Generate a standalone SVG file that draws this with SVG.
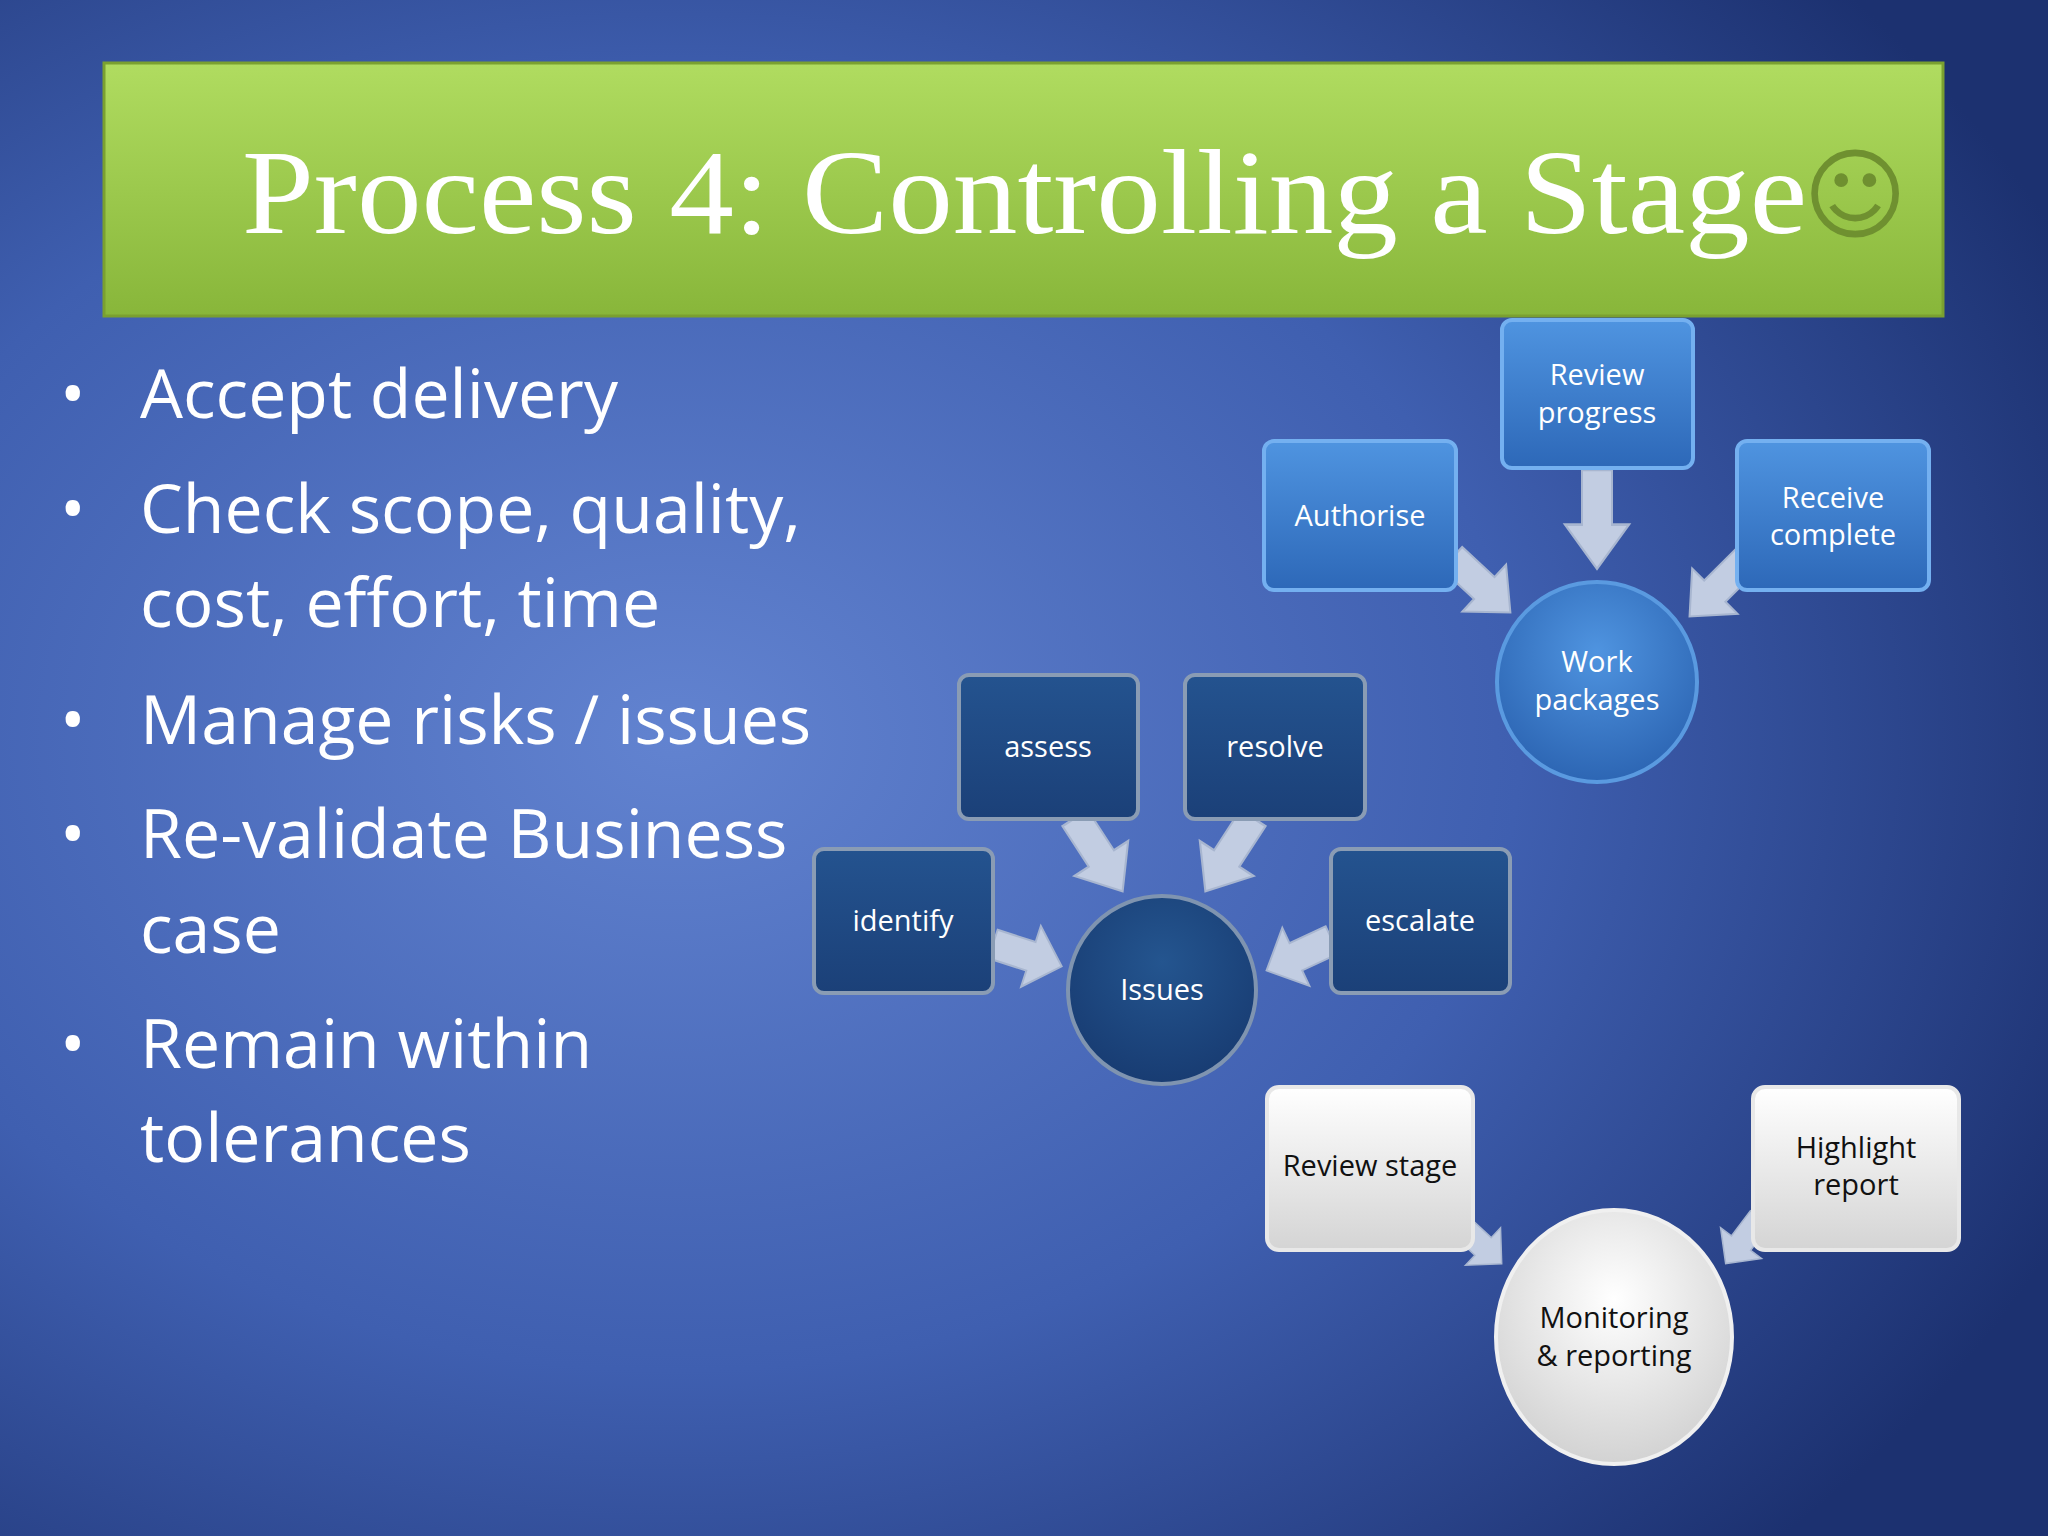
<svg xmlns="http://www.w3.org/2000/svg" width="2048" height="1536" viewBox="0 0 2048 1536">
<defs>
<radialGradient id="bg" cx="0.33" cy="0.48" r="0.75">
<stop offset="0" stop-color="#6283d0"/><stop offset="0.55" stop-color="#3f5fb0"/><stop offset="1" stop-color="#1c3170"/>
</radialGradient>
<linearGradient id="green" x1="0" y1="0" x2="0" y2="1">
<stop offset="0" stop-color="#b0dc60"/><stop offset="1" stop-color="#88b63a"/>
</linearGradient>
<linearGradient id="lb" x1="0" y1="0" x2="0" y2="1">
<stop offset="0" stop-color="#4f94e0"/><stop offset="1" stop-color="#2d68b8"/>
</linearGradient>
<radialGradient id="lbc" cx="0.5" cy="0.35" r="0.7">
<stop offset="0" stop-color="#4f94e0"/><stop offset="1" stop-color="#2a62b0"/>
</radialGradient>
<linearGradient id="db" x1="0" y1="0" x2="0" y2="1">
<stop offset="0" stop-color="#24538f"/><stop offset="1" stop-color="#1b4078"/>
</linearGradient>
<radialGradient id="dbc" cx="0.5" cy="0.35" r="0.7">
<stop offset="0" stop-color="#24558f"/><stop offset="1" stop-color="#173a70"/>
</radialGradient>
<linearGradient id="wb" x1="0" y1="0" x2="0" y2="1">
<stop offset="0" stop-color="#ffffff"/><stop offset="1" stop-color="#d4d4d4"/>
</linearGradient>
<radialGradient id="wbc" cx="0.5" cy="0.35" r="0.7">
<stop offset="0" stop-color="#ffffff"/><stop offset="1" stop-color="#cfcfcf"/>
</radialGradient>
<polygon id="arr" points="0,-15 42,-15 42,-32 76,0 42,32 42,15 0,15"/>
</defs>
<style>
.lb{fill:url(#lb);stroke:#74b0f0;stroke-width:4}
.lbc{fill:url(#lbc);stroke:#5a9ae0;stroke-width:4}
.db{fill:url(#db);stroke:#8a9cb4;stroke-width:4}
.dbc{fill:url(#dbc);stroke:#7f94b0;stroke-width:4}
.wb{fill:url(#wb);stroke:#e8e8e8;stroke-width:4}
.wbc{fill:url(#wbc);stroke:#f0f0f0;stroke-width:4}
.t{font-family:"Open Sans","Liberation Sans",sans-serif;font-size:29px;text-anchor:middle;fill:#fff}
.tk{font-family:"Open Sans","Liberation Sans",sans-serif;font-size:29px;text-anchor:middle;fill:#111}
.bul{font-family:"Open Sans","Liberation Sans",sans-serif;font-size:68px;fill:#fff}
.arr{fill:#c2cde2;stroke:#a8b6d0;stroke-width:2}
</style>
<rect width="2048" height="1536" fill="url(#bg)"/>
<g id="title">
<rect x="104" y="63" width="1839" height="253" fill="url(#green)" stroke="#7aa030" stroke-width="3"/>
<text x="242" y="233" font-family="Liberation Serif,serif" font-size="120" fill="#fff" textLength="1565" lengthAdjust="spacingAndGlyphs">Process 4: Controlling a Stage</text>
<text x="1855" y="230" font-family="DejaVu Sans,sans-serif" font-size="100" text-anchor="middle" fill="#6f9030">☺</text>
</g>
<g id="bullets" class="bul">
<text x="60" y="418">•</text><text x="140" y="418">Accept delivery</text>
<text x="60" y="533">•</text><text x="140" y="533">Check scope, quality,</text>
<text x="140" y="627">cost, effort, time</text>
<text x="60" y="744">•</text><text x="140" y="744">Manage risks / issues</text>
<text x="60" y="858">•</text><text x="140" y="858">Re-validate Business</text>
<text x="140" y="953">case</text>
<text x="60" y="1068">•</text><text x="140" y="1068">Remain within</text>
<text x="140" y="1162">tolerances</text>
</g>
<g id="connectors" class="arr">
<use href="#arr" transform="translate(1597,470) rotate(90) scale(1.3,1)"/>
<use href="#arr" transform="translate(1452,558) rotate(43) scale(1.05,1)"/>
<use href="#arr" transform="translate(1746,560) rotate(135) scale(1.05,1)"/>
<use href="#arr" transform="translate(1075,818) rotate(57) scale(1.15,1)"/>
<use href="#arr" transform="translate(1253,818) rotate(123) scale(1.15,1)"/>
<use href="#arr" transform="translate(993,944) rotate(18) scale(0.95,1)"/>
<use href="#arr" transform="translate(1332,940) rotate(155) scale(0.95,1)"/>
<use href="#arr" transform="translate(1460,1225) rotate(43) scale(0.75,0.8)"/>
<use href="#arr" transform="translate(1760,1218) rotate(127) scale(0.75,0.8)"/>
</g>
<g id="review-progress"><rect class="lb" x="1502" y="320" width="191" height="148" rx="10"/><text class="t" x="1597" y="385">Review</text><text class="t" x="1597" y="423">progress</text></g>
<g id="authorise"><rect class="lb" x="1264" y="441" width="192" height="149" rx="10"/><text class="t" x="1360" y="526">Authorise</text></g>
<g id="receive-complete"><rect class="lb" x="1737" y="441" width="192" height="149" rx="10"/><text class="t" x="1833" y="508">Receive</text><text class="t" x="1833" y="545">complete</text></g>
<g id="work-packages"><circle class="lbc" cx="1597" cy="682" r="100"/><text class="t" x="1597" y="672">Work</text><text class="t" x="1597" y="710">packages</text></g>
<g id="assess"><rect class="db" x="959" y="675" width="179" height="144" rx="10"/><text class="t" x="1048" y="757">assess</text></g>
<g id="resolve"><rect class="db" x="1185" y="675" width="180" height="144" rx="10"/><text class="t" x="1275" y="757">resolve</text></g>
<g id="identify"><rect class="db" x="814" y="849" width="179" height="144" rx="10"/><text class="t" x="903" y="931">identify</text></g>
<g id="escalate"><rect class="db" x="1331" y="849" width="179" height="144" rx="10"/><text class="t" x="1420" y="931">escalate</text></g>
<g id="issues"><circle class="dbc" cx="1162" cy="990" r="94"/><text class="t" x="1162" y="1000">Issues</text></g>
<g id="review-stage"><rect class="wb" x="1267" y="1087" width="206" height="163" rx="12"/><text class="tk" x="1370" y="1176">Review stage</text></g>
<g id="highlight-report"><rect class="wb" x="1753" y="1087" width="206" height="163" rx="12"/><text class="tk" x="1856" y="1158">Highlight</text><text class="tk" x="1856" y="1195">report</text></g>
<g id="monitoring"><ellipse class="wbc" cx="1614" cy="1337" rx="118" ry="127"/><text class="tk" x="1614" y="1328">Monitoring</text><text class="tk" x="1614" y="1366">&amp; reporting</text></g>
</svg>
